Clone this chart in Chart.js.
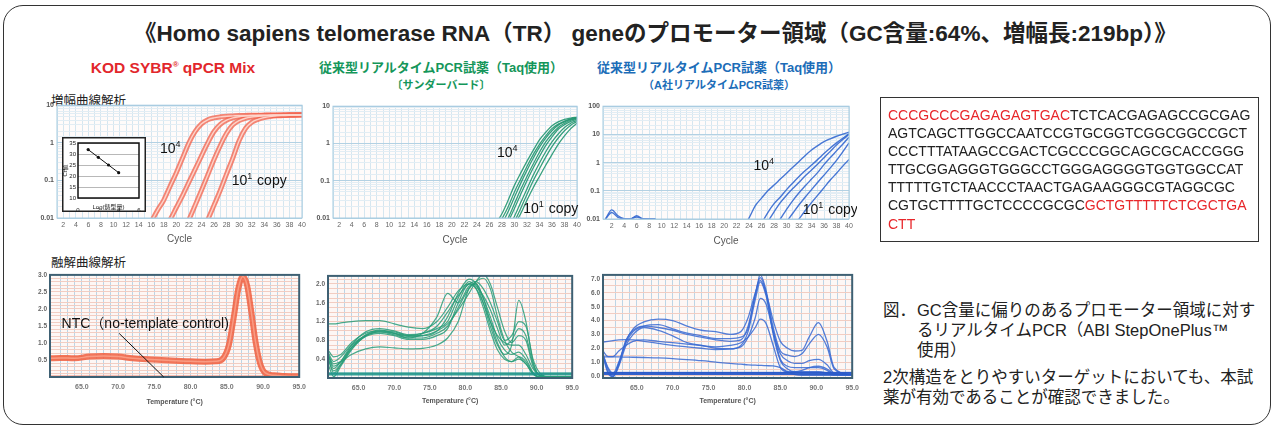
<!DOCTYPE html>
<html>
<head>
<meta charset="utf-8">
<script src="https://cdn.jsdelivr.net/npm/chart.js"></script>
<style>
  body { margin: 0; width: 1274px; height: 427px; background: #fff; position: relative; overflow: hidden;
         font-family: 'Liberation Sans', 'Noto Sans CJK JP', sans-serif; color: #222; }
  .t { position: absolute; white-space: nowrap; }
  .c { position: absolute; white-space: nowrap; text-align: center; font-weight: bold; }
  .frame { position: absolute; left: 3px; top: 5px; width: 1268px; height: 420px; box-sizing: border-box;
           border: 1.5px solid #333; border-radius: 20px; }
  canvas { position: absolute; }
  sup { font-size: 8px; vertical-align: 6px; line-height: 0; }
  .seq { position: absolute; box-sizing: border-box; border: 1.5px solid #333; padding: 8px 0 0 7px;
         font-size: 14px; line-height: 18.1px; white-space: nowrap; color: #222; }
  .seq .r { color: #e8262a; }
</style>
</head>
<body>
<div class="frame"></div>

<div class="t" style="left:134px;top:21px;font-size:22.5px;line-height:26px;font-weight:bold;">《Homo sapiens telomerase RNA（TR） geneのプロモーター領域（GC含量:64%、増幅長:219bp）》</div>

<div class="c" style="left:73px;width:200px;top:58px;font-size:15.5px;line-height:19px;color:#e2272c;">KOD SYBR<sup>®</sup> qPCR Mix</div>
<div class="c" style="left:291px;width:300px;top:59px;font-size:13px;line-height:18px;color:#14965a;">従来型リアルタイムPCR試薬（Taq使用）</div>
<div class="c" style="left:291px;width:300px;top:77px;font-size:11px;line-height:16px;color:#14965a;">〔サンダーバード〕</div>
<div class="c" style="left:569px;width:300px;top:59px;font-size:13px;line-height:18px;color:#1c6db8;">従来型リアルタイムPCR試薬（Taq使用）</div>
<div class="c" style="left:569px;width:300px;top:77px;font-size:11px;line-height:16px;color:#1c6db8;">（A社リアルタイムPCR試薬）</div>

<div class="t" style="left:51px;top:93px;font-size:12.5px;line-height:16px;">増幅曲線解析</div>
<div class="t" style="left:51px;top:255px;font-size:12.5px;line-height:16px;">融解曲線解析</div>

<canvas id="amp1" width="280" height="149" style="left:30px;top:98px;"></canvas>
<canvas id="amp2" width="280" height="149" style="left:305px;top:99px;"></canvas>
<canvas id="amp3" width="279" height="150" style="left:578px;top:99px;"></canvas>
<canvas id="inset" width="84" height="75" style="left:62px;top:137px;"></canvas>
<canvas id="melt1" width="294" height="140" style="left:18px;top:268px;"></canvas>
<canvas id="melt2" width="280" height="138" style="left:305px;top:269px;"></canvas>
<canvas id="melt3" width="285" height="139" style="left:580px;top:268px;"></canvas>

<div class="seq" style="left:880px;top:97px;width:379px;height:145px;"><span class="r">CCCGCCCGAGAGAGTGAC</span>TCTCACGAGAGCCGCGAG<br>AGTCAGCTTGGCCAATCCGTGCGGTCGGCGGCCGCT<br>CCCTTTATAAGCCGACTCGCCCGGCAGCGCACCGGG<br>TTGCGGAGGGTGGGCCTGGGAGGGGTGGTGGCCAT<br>TTTTTGTCTAACCCTAACTGAGAAGGGCGTAGGCGC<br>CGTGCTTTTGCTCCCCGCGC<span class="r">GCTGTTTTTCTCGCTGA<br>CTT</span></div>

<div class="t" style="left:883px;top:300px;font-size:16.5px;line-height:20px;">
  <div style="padding-left:34px;text-indent:-34px;"><span style="display:inline-block;width:34px;text-indent:0;">図．</span>GC含量に偏りのあるプロモーター領域に対す<br>るリアルタイムPCR（ABI StepOnePlus™<br>使用）</div>
  <div style="margin-top:6.6px;">2次構造をとりやすいターゲットにおいても、本試<br>薬が有効であることが確認できました。</div>
</div>

<script>
// ---------- amplification curves (cycle vs fluorescence, log) ----------
// each curve: first cycle listed + one value per cycle up to 40
const kodStart = [15, 18, 21, 24];
const kod1e4 = [0.004, 0.008, 0.016, 0.03, 0.07, 0.16, 0.4, 1.0, 2.0, 3.2, 4.1, 4.6, 4.9, 5.1, 5.2, 5.3, 5.35, 5.4, 5.4, 5.45, 5.45, 5.5, 5.5, 5.55, 5.55, 5.6];
const kod1e3 = [0.005, 0.009, 0.019, 0.04, 0.09, 0.2, 0.45, 1.0, 2.0, 3.1, 4.0, 4.6, 4.95, 5.15, 5.25, 5.3, 5.35, 5.4, 5.4, 5.45, 5.5, 5.5, 5.55];
const kod1e2 = [0.004, 0.009, 0.022, 0.055, 0.14, 0.36, 0.85, 1.8, 3.0, 3.9, 4.5, 4.85, 5.05, 5.2, 5.3, 5.35, 5.4, 5.45, 5.5, 5.55];
const kod1e1 = [0.004, 0.009, 0.022, 0.055, 0.15, 0.4, 1.15, 2.4, 3.5, 4.2, 4.7, 5.0, 5.2, 5.3, 5.4, 5.45, 5.5];

const tbStart = [26, 27, 27, 28, 28, 29, 29, 29];
const tbG1 = [0.004, 0.007, 0.013, 0.03, 0.075, 0.16, 0.33, 0.65, 1.25, 2.0, 3.0, 3.8, 4.4, 4.8, 5.1];
const tbG2 = [0.005, 0.0095, 0.02, 0.05, 0.11, 0.24, 0.5, 0.95, 1.6, 2.5, 3.3, 4.0, 4.6, 5.0];
const tbG3 = [0.004, 0.007, 0.015, 0.036, 0.085, 0.19, 0.4, 0.8, 1.4, 2.2, 3.1, 3.8, 4.4, 4.9];
const tbG4 = [0.005, 0.01, 0.024, 0.058, 0.13, 0.28, 0.58, 1.1, 1.8, 2.7, 3.5, 4.2, 4.7];
const tbG5 = [0.004, 0.008, 0.018, 0.043, 0.1, 0.22, 0.45, 0.88, 1.5, 2.4, 3.2, 3.9, 4.5];
const tbG6 = [0.0055, 0.011, 0.026, 0.06, 0.14, 0.3, 0.6, 1.1, 1.8, 2.7, 3.5, 4.2];
const tbG7 = [0.004, 0.008, 0.018, 0.043, 0.1, 0.21, 0.43, 0.82, 1.4, 2.2, 3.1, 3.9];
const tbG8 = [0.004, 0.007, 0.013, 0.03, 0.065, 0.13, 0.26, 0.5, 0.95, 1.6, 2.5, 3.5];

const abiStart = [1, 1, 23, 26, 27, 28, 30, 31];
const abiNoise1 = [0.01, 0.021, 0.013, 0.0102, 0.01, 0.013, 0.0102, 0.0101, 0.01];
const abiNoise2 = [0.01, 0.017, 0.0115, 0.0101, 0.01, 0.0118, 0.0101, 0.01, 0.01];
const abiA = [0.005, 0.011, 0.03, 0.055, 0.1, 0.16, 0.26, 0.42, 0.68, 1.1, 1.8, 2.8, 4.0, 5.5, 7.0, 8.6, 10.2, 12];
const abiB = [0.007, 0.017, 0.035, 0.06, 0.11, 0.19, 0.32, 0.52, 0.82, 1.3, 2.1, 3.3, 5.0, 7.3, 10.5];
const abiC = [0.008, 0.018, 0.038, 0.07, 0.12, 0.2, 0.34, 0.55, 0.9, 1.5, 2.5, 4.2, 6.6, 10];
const abiD = [0.005, 0.01, 0.022, 0.045, 0.085, 0.15, 0.26, 0.45, 0.85, 1.5, 2.6, 4.5, 8];
const abiE = [0.008, 0.016, 0.032, 0.06, 0.11, 0.2, 0.36, 0.65, 1.2, 2.4, 5];
const abiF = [0.005, 0.01, 0.02, 0.038, 0.07, 0.13, 0.24, 0.42, 0.75, 1.3];

// standard curve (inset)
const logTemplate = [1, 2, 3, 4];
const ctValues = [32, 28.5, 25, 21.5];

// ---------- melt curves (temperature vs -dF/dT) ----------
const meltT1 = [60.6, 62, 64, 66, 68, 70, 72, 74, 76, 78, 80, 82, 83.5, 84.5, 85.3, 86, 86.6, 87.2, 87.8, 88.4, 89, 89.6, 90.3, 91.5, 93, 95];
const kodMelt = [0.55, 0.56, 0.55, 0.6, 0.62, 0.6, 0.55, 0.52, 0.5, 0.48, 0.46, 0.45, 0.46, 0.55, 0.95, 1.8, 2.6, 2.95, 2.7, 1.9, 1.0, 0.4, 0.12, 0.05, 0.03, 0.02];
const ntcT1 = [60.6, 70, 80, 95];
const kodNtc = [0.03, 0.035, 0.03, 0.03];

const meltT2 = [60.7, 61.5, 62.5, 64, 66, 68, 70, 72, 74, 76, 77.5, 79, 80.5, 81.5, 82.5, 83.5, 84.5, 85.5, 86.5, 87.5, 88.5, 89.5, 90.5, 92, 95];
const tbM1 = [1.15, 1.15, 1.17, 1.2, 1.22, 1.22, 1.15, 1.08, 1.05, 1.2, 1.5, 1.85, 2.0, 1.9, 1.6, 1.2, 0.9, 0.75, 0.7, 0.7, 0.5, 0.2, 0.05, 0.02, 0.02];
const tbM2 = [0.6, 0.45, 0.5, 0.75, 0.95, 1.0, 0.95, 0.9, 0.95, 1.1, 1.4, 1.75, 2.0, 2.05, 1.9, 1.6, 1.2, 0.8, 0.9, 1.2, 1.1, 0.4, 0.1, 0.02, 0.02];
const tbM3 = [0.5, 0.2, 0.35, 0.7, 0.98, 1.05, 1.0, 0.92, 0.95, 1.05, 1.2, 1.7, 2.05, 1.95, 1.75, 1.45, 1.05, 0.7, 0.8, 1.05, 0.9, 0.3, 0.05, 0.02, 0.02];
const tbM4 = [0.3, 0.03, 0.25, 0.6, 0.9, 1.0, 0.98, 0.9, 0.9, 1.0, 1.3, 1.8, 2.1, 2.0, 1.6, 1.1, 0.7, 0.5, 0.7, 1.65, 1.2, 0.35, 0.05, 0.02, 0.02];
const tbM5 = [0.4, 0.15, 0.3, 0.65, 0.92, 1.02, 0.95, 0.85, 0.85, 0.95, 1.1, 1.5, 1.9, 2.05, 2.12, 1.9, 1.3, 0.8, 0.55, 0.45, 0.3, 0.1, 0.02, 0.02, 0.02];
const tbM6 = [0.5, 0.3, 0.35, 0.5, 0.62, 0.66, 0.64, 0.62, 0.63, 0.7, 0.85, 1.2, 1.9, 2.0, 1.7, 1.2, 0.75, 0.45, 0.35, 0.45, 0.35, 0.1, 0.02, 0.02, 0.02];
const tbM7 = [0.45, 0.1, 0.28, 0.62, 0.88, 0.95, 0.9, 0.82, 0.82, 0.9, 1.05, 1.6, 2.0, 1.9, 1.5, 1.0, 0.6, 0.4, 0.35, 0.4, 0.3, 0.08, 0.02, 0.02, 0.02];
const tbM8 = [0.55, 0.35, 0.45, 0.7, 0.9, 0.98, 0.95, 0.88, 0.9, 1.0, 1.15, 1.45, 1.8, 2.05, 2.2, 2.0, 1.5, 1.0, 0.75, 0.9, 0.8, 0.25, 0.05, 0.02, 0.02];
const tbM9 = [0.5, 0.25, 0.35, 0.65, 0.9, 0.98, 0.92, 0.85, 0.95, 1.3, 1.8, 1.6, 1.95, 2.0, 1.7, 1.3, 0.85, 0.6, 0.5, 0.55, 0.4, 0.12, 0.02, 0.02, 0.02];
const ntcT2 = [60.7, 95];
const tbNtc1 = [0.08, 0.08];
const tbNtc2 = [0.11, 0.11];

const meltT3 = [60.3, 61, 61.7, 62.5, 63.5, 64.5, 66, 68, 70, 72, 74, 76, 78, 79.5, 80.5, 81.5, 82.2, 83, 84, 85, 86, 87, 88, 89, 90.3, 91.5, 92.5, 95];
const abiM1 = [1.5, 0.3, -0.05, 0.8, 2.5, 3.4, 3.9, 4.1, 4.0, 3.6, 3.3, 3.2, 3.0, 3.2, 4.2, 6.0, 6.9, 6.0, 4.0, 2.5, 2.0, 1.8, 1.85, 2.8, 3.85, 2.5, 0.6, 0.05];
const abiM2 = [1.6, 0.5, 0.0, 0.9, 2.6, 3.3, 3.6, 3.5, 3.3, 3.0, 2.8, 2.6, 2.5, 2.6, 3.6, 5.8, 7.3, 6.2, 3.5, 1.8, 1.5, 1.4, 1.6, 2.3, 3.0, 2.1, 0.5, 0.05];
const abiM3 = [1.4, 0.2, -0.05, 0.7, 2.2, 3.0, 3.5, 3.3, 2.9, 2.4, 2.2, 2.0, 1.95, 2.2, 3.2, 5.5, 6.8, 5.8, 3.2, 1.6, 1.1, 0.9, 0.9, 1.1, 1.2, 0.8, 0.2, 0.05];
const abiM4 = [2.45, 2.5, 2.55, 2.6, 2.62, 2.6, 2.5, 2.35, 2.2, 2.1, 2.0, 1.9, 1.95, 2.1, 2.8, 4.2, 5.6, 5.2, 3.2, 1.2, 0.7, 0.6, 0.6, 0.6, 0.6, 0.4, 0.1, 0.05];
const abiM5 = [1.8, 1.4, 1.4, 1.8, 2.2, 2.5, 2.6, 2.5, 2.4, 2.3, 2.2, 2.1, 2.2, 2.4, 2.8, 3.5, 4.1, 3.8, 2.2, 0.6, 0.3, 0.3, 0.4, 0.6, 0.7, 0.5, 0.15, 0.05];
const abiM6 = [1.5, 0.6, 0.2, 1.0, 2.4, 3.2, 3.6, 3.7, 3.4, 3.1, 2.9, 2.7, 2.7, 2.8, 3.4, 5.9, 7.1, 6.0, 3.0, 1.1, 0.5, 0.3, 0.3, 0.3, 0.3, 0.2, 0.05, 0.05];
const abiM7 = [1.38, 1.38, 1.38, 1.37, 1.36, 1.35, 1.33, 1.3, 1.25, 1.18, 1.1, 1.0, 0.9, 0.85, 0.8, 0.78, 0.76, 0.74, 0.72, 0.6, 0.3, 0.1, 0.05, 0.05, 0.05, 0.05, 0.05, 0.05];
const ntcT3 = [60.3, 95];
const abiNtc1 = [0.18, 0.18];
const abiNtc2 = [0.24, 0.24];

Chart.defaults.font.family = "'Liberation Sans', 'Noto Sans CJK JP', sans-serif";

// plot background, frame and text notes inside the plots
const deco = {
  id: 'deco',
  beforeDraw(chart, args, o) {
    const ctx = chart.ctx, a = chart.chartArea;
    ctx.save();
    if (o.canvasBg) { ctx.fillStyle = o.canvasBg; ctx.fillRect(0, 0, chart.width, chart.height); }
    if (o.bg) { ctx.fillStyle = o.bg; ctx.fillRect(a.left, a.top, a.width, a.height); }
    ctx.restore();
  },
  afterDatasetsDraw(chart, args, o) {
    const ctx = chart.ctx, a = chart.chartArea, x = chart.scales.x, y = chart.scales.y;
    ctx.save();
    if (o.frame) {
      ctx.strokeStyle = o.frame; ctx.lineWidth = o.frameWidth || 1;
      ctx.strokeRect(a.left, a.top, a.width, a.height);
    }
    (o.lines || []).forEach(l => {
      ctx.strokeStyle = '#111'; ctx.lineWidth = 1;
      ctx.beginPath();
      ctx.moveTo(x.getPixelForValue(l[0]), y.getPixelForValue(l[1]));
      ctx.lineTo(x.getPixelForValue(l[2]), y.getPixelForValue(l[3]));
      ctx.stroke();
    });
    (o.notes || []).forEach(n => {
      let px = x.getPixelForValue(n.x);
      const py = y.getPixelForValue(n.y);
      ctx.fillStyle = '#111'; ctx.textAlign = 'left'; ctx.textBaseline = 'alphabetic';
      n.parts.forEach(p => {
        ctx.font = (p.sup ? '9px' : '14px') + " 'Liberation Sans', 'Noto Sans CJK JP', sans-serif";
        ctx.fillText(p.t, px, p.sup ? py - 6 : py);
        px += ctx.measureText(p.t).width + (p.sup ? 1 : 0);
      });
    });
    if (o.outer) {
      ctx.strokeStyle = '#222'; ctx.lineWidth = 1.5;
      ctx.strokeRect(0.75, 0.75, chart.width - 1.5, chart.height - 1.5);
    }
    ctx.restore();
  }
};

function isDecade(v) {
  const l = Math.log10(v);
  return Math.abs(l - Math.round(l)) < 1e-6;
}

function ampSet(start, vals, color, width, order) {
  return {
    data: vals.map((v, i) => ({x: start + i, y: v})),
    borderColor: color, borderWidth: width, pointRadius: 0,
    cubicInterpolationMode: 'monotone', order: order || 0
  };
}

function meltSet(temps, vals, color, width, order) {
  return {
    data: vals.map((v, i) => ({x: temps[i], y: v})),
    borderColor: color, borderWidth: width, pointRadius: 0,
    cubicInterpolationMode: 'monotone', order: order || 0
  };
}

function ampChart(id, datasets, o) {
  return new Chart(document.getElementById(id), {
    type: 'line',
    data: {datasets: datasets},
    options: {
      responsive: false, animation: false, events: [],
      layout: {padding: {left: 0, top: 6, right: 8, bottom: 2}},
      plugins: {legend: {display: false}, tooltip: {enabled: false},
        deco: {bg: '#fffbfa', frame: '#a6cbe0', frameWidth: 1, notes: o.notes}},
      scales: {
        x: {
          type: 'linear', min: o.xmin, max: 40,
          afterFit: s => { s.height = o.xh; },
          ticks: {stepSize: 1, autoSkip: false, maxRotation: 0, font: {size: 7}, color: '#666',
                  callback: v => (v % 2 === 0 ? v : '')},
          grid: {color: '#d5e6f0', drawTicks: false},
          border: {display: false},
          title: {display: true, text: 'Cycle', font: {size: 10}, color: '#555', padding: 0}
        },
        y: {
          type: 'logarithmic', min: 0.01, max: o.ymax,
          afterFit: s => { s.width = o.yw; },
          ticks: {autoSkip: false, font: {size: 7, weight: 'bold'}, color: '#555',
                  callback: v => (isDecade(v) ? String(v) : '')},
          grid: {color: c => (isDecade(c.tick.value) ? '#b3d1e3' : '#e2edf4'), drawTicks: false},
          border: {display: false}
        }
      }
    },
    plugins: [deco]
  });
}

function meltChart(id, datasets, o) {
  return new Chart(document.getElementById(id), {
    type: 'line',
    data: {datasets: datasets},
    options: {
      responsive: false, animation: false, events: [],
      layout: {padding: {left: 0, top: 6, right: 10, bottom: 2}},
      plugins: {legend: {display: false}, tooltip: {enabled: false},
        deco: {bg: '#fdf7f5', frame: '#3e6073', frameWidth: 2, notes: o.notes, lines: o.lines}},
      scales: {
        x: {
          type: 'linear', min: o.xmin, max: 95,
          afterFit: s => { s.height = o.xh; },
          afterBuildTicks: s => { s.ticks = s.ticks.filter(t => Number.isInteger(t.value)); },
          ticks: {stepSize: 1, autoSkip: false, maxRotation: 0, padding: 6, font: {size: 7, weight: 'bold'}, color: '#777',
                  callback: v => (v % 5 === 0 ? v.toFixed(1) : '')},
          grid: {color: '#bcd5e6', drawTicks: false},
          border: {display: false},
          title: {display: true, text: 'Temperature (°C)', font: {size: 7, weight: 'bold'}, color: '#555', padding: 0}
        },
        y: {
          min: o.ymin, max: o.ymax,
          afterFit: s => { s.width = o.yw; },
          ticks: {stepSize: o.ystep, autoSkip: false, includeBounds: false, font: {size: 6.5, weight: 'bold'}, color: '#666',
                  callback: o.ylabel},
          grid: {color: '#f2cdc2', drawTicks: false},
          border: {display: false}
        }
      }
    },
    plugins: [deco]
  });
}

// ---- amplification panels ----
const red = 'rgba(242,104,82,0.8)', redIn = 'rgba(253,214,204,0.95)';
const kodSeries = [kod1e4, kod1e3, kod1e2, kod1e1];
const amp1Sets = [];
kodSeries.forEach((s, i) => {
  amp1Sets.push(ampSet(kodStart[i], s, red, 5, 1));
  amp1Sets.push(ampSet(kodStart[i], s, redIn, 1.4, 0));
});
ampChart('amp1', amp1Sets, {
  xmin: 1, ymax: 10, yw: 27, xh: 27,
  notes: [{x: 17.4, y: 0.55, parts: [{t: '10'}, {t: '4', sup: true}]},
          {x: 28.8, y: 0.074, parts: [{t: '10'}, {t: '1', sup: true}, {t: ' copy'}]}]
});

const green = 'rgba(34,150,112,0.9)';
const tbSeries = [tbG1, tbG2, tbG3, tbG4, tbG5, tbG6, tbG7, tbG8];
ampChart('amp2', tbSeries.map((s, i) => ampSet(tbStart[i], s, green, 1.3)), {
  xmin: 1, ymax: 10, yw: 28, xh: 28,
  notes: [{x: 27.2, y: 0.44, parts: [{t: '10'}, {t: '4', sup: true}]},
          {x: 31.4, y: 0.0138, parts: [{t: '10'}, {t: '1', sup: true}, {t: ' copy'}]}]
});

const blue = 'rgba(52,104,208,0.9)';
const abiSeries = [abiNoise1, abiNoise2, abiA, abiB, abiC, abiD, abiE, abiF];
ampChart('amp3', abiSeries.map((s, i) => ampSet(abiStart[i], s, blue, 1.4)), {
  xmin: 0.6, ymax: 100, yw: 25, xh: 28,
  notes: [{x: 24.7, y: 0.55, parts: [{t: '10'}, {t: '4', sup: true}]},
          {x: 32.6, y: 0.015, parts: [{t: '10'}, {t: '1', sup: true}, {t: ' copy'}]}]
});

// ---- inset: Ct vs log template ----
new Chart(document.getElementById('inset'), {
  type: 'line',
  data: {datasets: [{
    data: logTemplate.map((v, i) => ({x: v, y: ctValues[i]})),
    borderColor: '#111', borderWidth: 1, pointRadius: 1.6, pointBackgroundColor: '#111', pointBorderWidth: 0
  }]},
  options: {
    responsive: false, animation: false, events: [],
    layout: {padding: {left: 0, top: 6, right: 7, bottom: 1}},
    plugins: {legend: {display: false}, tooltip: {enabled: false},
      deco: {canvasBg: '#fff', frame: '#111', frameWidth: 1.5, outer: true}},
    scales: {
      x: {type: 'linear', min: 0, max: 6, afterFit: s => { s.height = 13; },
          ticks: {stepSize: 2, font: {size: 6}, color: '#222', padding: 1, maxRotation: 0},
          grid: {display: false}, border: {display: false},
          title: {display: true, text: 'Log(鋳型量)', font: {size: 6}, color: '#222', padding: 0}},
      y: {min: 10, max: 35, afterFit: s => { s.width = 16; },
          ticks: {stepSize: 5, font: {size: 6}, color: '#222', padding: 2},
          grid: {color: '#999', lineWidth: 0.7, drawTicks: false}, border: {display: false},
          title: {display: true, text: 'Ct値', font: {size: 6}, color: '#222', padding: 0}}
    }
  },
  plugins: [deco]
});

// ---- melt panels ----
meltChart('melt1', [
  meltSet(ntcT1, kodNtc, 'rgba(240,120,100,0.45)', 2, 2),
  meltSet(meltT1, kodMelt, 'rgba(240,94,62,0.85)', 6, 1),
  meltSet(meltT1, kodMelt, 'rgba(250,160,135,0.9)', 1.5, 0)
], {
  xmin: 60.6, ymin: 0, ymax: 3.0, ystep: 0.1, yw: 32, xh: 29,
  ylabel: v => (v > 0.01 && Math.abs(v * 2 - Math.round(v * 2)) < 1e-6 ? v.toFixed(1) : ''),
  notes: [{x: 62.2, y: 1.43, parts: [{t: 'NTC（no-template control)'}]}],
  lines: [[70.15, 1.28, 76.3, 0.0]]
});

const tbMelt = [tbM1, tbM2, tbM3, tbM4, tbM5, tbM6, tbM7, tbM8, tbM9];
meltChart('melt2', [
  meltSet(ntcT2, tbNtc1, 'rgba(30,150,140,0.9)', 2.5),
  meltSet(ntcT2, tbNtc2, 'rgba(30,150,140,0.6)', 1.5)
].concat(tbMelt.map(s => meltSet(meltT2, s, 'rgba(40,156,120,0.85)', 1.2))), {
  xmin: 60.7, ymin: 0, ymax: 2.17, ystep: 0.1, yw: 23, xh: 27,
  ylabel: v => (v > 0.01 && Math.abs(v / 0.4 - Math.round(v / 0.4)) < 1e-6 ? v.toFixed(1) : '')
});

const abiMelt = [abiM1, abiM2, abiM3, abiM4, abiM5, abiM6, abiM7];
meltChart('melt3', [
  meltSet(ntcT3, abiNtc1, 'rgba(40,90,200,0.95)', 3),
  meltSet(ntcT3, abiNtc2, 'rgba(40,90,200,0.6)', 1.5)
].concat(abiMelt.map(s => meltSet(meltT3, s, 'rgba(55,105,210,0.85)', 1.3))), {
  xmin: 60.3, ymin: -0.15, ymax: 7.3, ystep: 0.5, yw: 23, xh: 27,
  ylabel: v => (Math.abs(v - Math.round(v)) < 1e-6 ? v.toFixed(1) : '')
});
</script>
</body>
</html>
